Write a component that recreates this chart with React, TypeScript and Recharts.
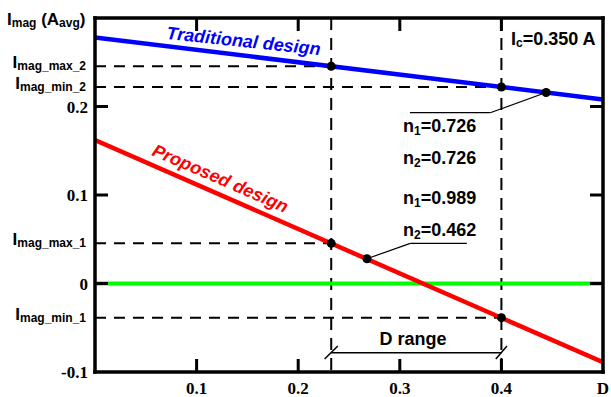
import React from 'react';
import {
  ComposedChart,
  Line,
  XAxis,
  YAxis,
  ReferenceLine,
  ReferenceDot,
} from 'recharts';

// ---- data ----
const dEnds = [0, 0.5];
const traditionalDesign = [0.278, 0.208];
const proposedDesign = [0.162, -0.089];
const zeroReference = [0, 0];

const dRangeMin = 0.2325;
const dRangeMax = 0.4;

const imagMax2 = 0.2455;
const imagMin2 = 0.222;
const imagMax1 = 0.0454;
const imagMin1 = -0.0386;

const tradMark = { d: 0.444, v: 0.2158 };
const propMark = { d: 0.2677, v: 0.028 };

const xTicks = [0.1, 0.2, 0.3, 0.4, 0.5];
const xTickLabels = ['0.1', '0.2', '0.3', '0.4', 'D'];
const yTicks = [-0.1, 0, 0.1, 0.2];
const yTickLabels = ['-0.1', '0', '0.1', '0.2'];
const levelValues = [imagMax2, imagMin2, imagMax1, imagMin1];
const levelSubs = ['mag_max_2', 'mag_min_2', 'mag_max_1', 'mag_min_1'];

const tradData = dEnds.map((d, i) => ({ d, v: traditionalDesign[i] }));
const propData = dEnds.map((d, i) => ({ d, v: proposedDesign[i] }));
const zeroData = dEnds.map((d, i) => ({ d, v: zeroReference[i] }));

const SANS = '"Liberation Sans", Arial, sans-serif';
const SERIF = '"Liberation Serif", "Times New Roman", serif';

const XMIN = 0;
const XMAX = 0.5;
const YMIN = -0.1;
const YMAX = 0.3;
const tickDX = 0.0128;
const tickDY = 0.0147;

const renderYTick = (props: any) => {
  const { y, payload } = props;
  const v = payload.value;
  const li = levelValues.findIndex((l) => Math.abs(l - v) < 1e-9);
  if (li >= 0) {
    return (
      <text x={86} y={y + 2} textAnchor="end" fontFamily={SANS} fontWeight="bold" fill="#000">
        <tspan fontSize={17}>I</tspan>
        <tspan fontSize={12} dy={2}>{levelSubs[li]}</tspan>
      </text>
    );
  }
  const ti = yTicks.findIndex((t) => Math.abs(t - v) < 1e-9);
  return (
    <text x={88} y={y + 6} textAnchor="end" fontFamily={SERIF} fontWeight="bold" fontSize={17} fill="#000">
      {ti >= 0 ? yTickLabels[ti] : String(v)}
    </text>
  );
};

const renderXTick = (props: any) => {
  const { x, payload } = props;
  const i = xTicks.findIndex((t) => Math.abs(t - payload.value) < 1e-9);
  return (
    <text x={x} y={394} textAnchor="middle" fontFamily={SERIF} fontWeight="bold" fontSize={17} fill="#000">
      {i >= 0 ? xTickLabels[i] : String(payload.value)}
    </text>
  );
};

const dash = '11 8';
const FW = 3.5;

export default function App() {
  const allYTicks = [...yTicks, ...levelValues].sort((a, b) => a - b);
  const tickSegs: { a: { x: number; y: number }; b: { x: number; y: number } }[] = [];
  xTicks.slice(0, 4).forEach((t) => {
    tickSegs.push({ a: { x: t, y: YMIN }, b: { x: t, y: YMIN + tickDY } });
    tickSegs.push({ a: { x: t, y: YMAX }, b: { x: t, y: YMAX - tickDY } });
  });
  yTicks.slice(1).forEach((t) => {
    tickSegs.push({ a: { x: XMIN, y: t }, b: { x: XMIN + tickDX, y: t } });
    tickSegs.push({ a: { x: XMAX, y: t }, b: { x: XMAX - tickDX, y: t } });
  });
  return (
    <div style={{ position: 'absolute', left: 0, top: 0, width: 611, height: 397, background: '#fff' }}>
      <ComposedChart width={611} height={397} margin={{ top: 18, right: 8, bottom: 0, left: 0 }}>
        <XAxis
          dataKey="d"
          type="number"
          domain={[XMIN, XMAX]}
          allowDataOverflow
          ticks={xTicks}
          interval={0}
          height={25}
          axisLine={false}
          tickLine={false}
          tick={renderXTick}
        />
        <YAxis
          type="number"
          domain={[YMIN, YMAX]}
          allowDataOverflow
          ticks={allYTicks}
          interval={0}
          width={95}
          axisLine={false}
          tickLine={false}
          tick={renderYTick}
        />

        {/* dashed guide lines */}
        <ReferenceLine segment={[{ x: XMIN, y: imagMax2 }, { x: dRangeMin, y: imagMax2 }]} stroke="#000" strokeWidth={2} strokeDasharray={dash} />
        <ReferenceLine segment={[{ x: XMIN, y: imagMin2 }, { x: dRangeMax, y: imagMin2 }]} stroke="#000" strokeWidth={2} strokeDasharray={dash} />
        <ReferenceLine segment={[{ x: XMIN, y: imagMax1 }, { x: dRangeMin, y: imagMax1 }]} stroke="#000" strokeWidth={2} strokeDasharray={dash} />
        <ReferenceLine segment={[{ x: XMIN, y: imagMin1 }, { x: dRangeMax, y: imagMin1 }]} stroke="#000" strokeWidth={2} strokeDasharray={dash} />
        <ReferenceLine segment={[{ x: dRangeMin, y: YMAX }, { x: dRangeMin, y: YMIN }]} stroke="#000" strokeWidth={2} strokeDasharray="12 8" />
        <ReferenceLine segment={[{ x: dRangeMax, y: YMAX }, { x: dRangeMax, y: YMIN }]} stroke="#000" strokeWidth={2} strokeDasharray="12 8" />

        {/* leader lines */}
        <ReferenceLine segment={[{ x: tradMark.d, y: tradMark.v }, { x: 0.389, y: 0.193 }]} stroke="#000" strokeWidth={1.2} />
        <ReferenceLine segment={[{ x: 0.389, y: 0.193 }, { x: 0.31, y: 0.193 }]} stroke="#000" strokeWidth={1.2} />
        <ReferenceLine segment={[{ x: propMark.d, y: propMark.v }, { x: 0.3103, y: 0.0454 }]} stroke="#000" strokeWidth={1.2} />
        <ReferenceLine segment={[{ x: 0.3103, y: 0.0454 }, { x: 0.366, y: 0.0454 }]} stroke="#000" strokeWidth={1.2} />

        {/* D range bracket */}
        <ReferenceLine segment={[{ x: dRangeMin, y: -0.0782 }, { x: dRangeMax, y: -0.0782 }]} stroke="#000" strokeWidth={1.5} />
        <ReferenceLine segment={[{ x: dRangeMin - 0.0065, y: -0.0853 }, { x: dRangeMin + 0.0065, y: -0.0706 }]} stroke="#000" strokeWidth={1.5} />
        <ReferenceLine segment={[{ x: dRangeMax - 0.0055, y: -0.0853 }, { x: dRangeMax + 0.0055, y: -0.0706 }]} stroke="#000" strokeWidth={1.5} />

        {/* series */}
        <Line data={zeroData} dataKey="v" type="linear" stroke="#00ff00" strokeWidth={4} dot={false} isAnimationActive={false} />
        <Line data={tradData} dataKey="v" type="linear" stroke="#0000ff" strokeWidth={4.5} dot={false} isAnimationActive={false} />
        <Line data={propData} dataKey="v" type="linear" stroke="#ff0000" strokeWidth={4.5} dot={false} isAnimationActive={false} />

        {/* frame */}
        <ReferenceLine ifOverflow="visible" segment={[{ x: XMIN, y: YMIN }, { x: XMAX, y: YMIN }]} stroke="#000" strokeWidth={FW} strokeLinecap="square" />
        <ReferenceLine ifOverflow="visible" segment={[{ x: XMIN, y: YMAX }, { x: XMAX, y: YMAX }]} stroke="#000" strokeWidth={FW} strokeLinecap="square" />
        <ReferenceLine ifOverflow="visible" segment={[{ x: XMIN, y: YMIN }, { x: XMIN, y: YMAX }]} stroke="#000" strokeWidth={FW} strokeLinecap="square" />
        <ReferenceLine ifOverflow="visible" segment={[{ x: XMAX, y: YMIN }, { x: XMAX, y: YMAX }]} stroke="#000" strokeWidth={FW} strokeLinecap="square" />

        {/* inward ticks */}
        {tickSegs.map((s, i) => (
          <ReferenceLine key={'tk' + i} ifOverflow="visible" segment={[s.a, s.b]} stroke="#000" strokeWidth={3} />
        ))}

        {/* operating points */}
        <ReferenceDot x={dRangeMin} y={imagMax2} r={4.5} fill="#000" stroke="none" />
        <ReferenceDot x={dRangeMax} y={imagMin2} r={4.5} fill="#000" stroke="none" />
        <ReferenceDot x={tradMark.d} y={tradMark.v} r={4.5} fill="#000" stroke="none" />
        <ReferenceDot x={dRangeMin} y={imagMax1} r={4.5} fill="#000" stroke="none" />
        <ReferenceDot x={dRangeMax} y={imagMin1} r={4.5} fill="#000" stroke="none" />
        <ReferenceDot x={propMark.d} y={propMark.v} r={4.5} fill="#000" stroke="none" />
      </ComposedChart>

      <svg width={611} height={397} style={{ position: 'absolute', left: 0, top: 0, pointerEvents: 'none' }}>
        <text x={7} y={25} fontFamily={SANS} fontWeight="bold" fill="#000">
          <tspan fontSize={17}>I</tspan>
          <tspan fontSize={12} dy={2}>mag</tspan>
          <tspan fontSize={17} dy={-2}> (A</tspan>
          <tspan fontSize={12} dy={2}>avg</tspan>
          <tspan fontSize={17} dy={-2}>)</tspan>
        </text>
        <text x={511} y={45} fontFamily={SANS} fontWeight="bold" fill="#000">
          <tspan fontSize={18}>I</tspan>
          <tspan fontSize={12} dy={2}>c</tspan>
          <tspan fontSize={18} dy={-2}>=0.350 A</tspan>
        </text>
        {[
          { sub: '1', val: '0.726', y: 132 },
          { sub: '2', val: '0.726', y: 164 },
          { sub: '1', val: '0.989', y: 204 },
          { sub: '2', val: '0.462', y: 236 },
        ].map((n, i) => (
          <text key={i} x={403} y={n.y} fontFamily={SANS} fontWeight="bold" fill="#000">
            <tspan fontSize={18}>n</tspan>
            <tspan fontSize={12} dy={3}>{n.sub}</tspan>
            <tspan fontSize={18} dy={-3}>={n.val}</tspan>
          </text>
        ))}
        <text x={413} y={345} textAnchor="middle" fontFamily={SANS} fontWeight="bold" fontSize={18} fill="#000">
          D range
        </text>
        <text x={243} y={47} textAnchor="middle" fontFamily={SANS} fontWeight="bold" fontStyle="italic" fontSize={18} fill="#0000ff" transform="rotate(6 243 47)">
          Traditional design
        </text>
        <text x={218} y={184} textAnchor="middle" fontFamily={SANS} fontWeight="bold" fontStyle="italic" fontSize={18} fill="#ff0000" transform="rotate(23.5 218 184)">
          Proposed design
        </text>
      </svg>
    </div>
  );
}
